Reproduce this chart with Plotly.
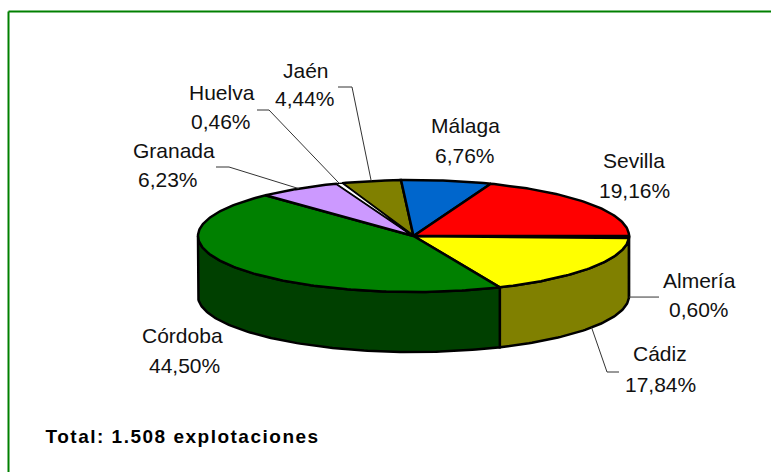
import numpy as np
import plotly.graph_objects as go

# --- data -------------------------------------------------------------
provinces = ["Almería", "Cádiz", "Córdoba", "Granada", "Huelva", "Jaén", "Málaga", "Sevilla"]
shares = [0.60, 17.84, 44.50, 6.23, 0.46, 4.44, 6.76, 19.16]
total_note = "Total: 1.508 explotaciones"

# --- style ------------------------------------------------------------
top_colors = ["#000000", "#FFFF00", "#008000", "#CC99FF", "#FFFFFF", "#808000", "#0066CC", "#FF0000"]
wall_colors = ["#000000", "#808000", "#004000", "#66507F", "#808080", "#404000", "#003366", "#800000"]
W, H = 771, 472
CX, CY, RX, RY, DEPTH = 413.5, 236.0, 215.5, 56.0, 60.0
FONT = "Liberation Sans, Arial, sans-serif"
INK = "#111111"
# label centres: (name x, name y, percent x, percent y)
label_pos = {
    "Almería": (699, 280, 699, 309),
    "Cádiz": (660, 353, 660, 384),
    "Córdoba": (182, 335, 184, 365),
    "Granada": (174, 150, 168, 179),
    "Huelva": (222, 92, 221, 121),
    "Jaén": (306, 70, 305, 98),
    "Málaga": (465, 125, 465, 155),
    "Sevilla": (634, 160, 634, 190),
}
# elbow of the leader line and end next to the label, for labels that have one
leader_ends = {
    "Almería": [(659, None)],
    "Cádiz": [(607, 372), (619, 372)],
    "Granada": [(229, 167), (216, 167)],
    "Huelva": [(269, 110), (257, 110)],
    "Jaén": [(352, 87), (338, 87)],
}

# --- geometry from the values -----------------------------------------
vals = np.array(shares, dtype=float)
edges = np.concatenate([[0.0], np.cumsum(vals) / vals.sum() * 2 * np.pi])


def rim(t, dy=0.0):
    return CX + RX * np.cos(t), CY + RY * np.sin(t) + dy


fig = go.Figure()


def add_poly(xs, ys, color, width=2.5):
    fig.add_trace(go.Scatter(
        x=list(xs), y=list(ys), mode="lines", fill="toself", fillcolor=color,
        line=dict(color="#000000", width=width), hoverinfo="skip", showlegend=False,
    ))


# visible walls (front half of the disc)
for i in range(len(vals)):
    a, b = edges[i], min(edges[i + 1], np.pi)
    if a >= np.pi:
        continue
    t = np.linspace(a, b, max(int((b - a) * 60), 2))
    x1, y1 = rim(t)
    x2, y2 = rim(t[::-1], DEPTH)
    add_poly(np.r_[x1, x2, x1[0]], np.r_[y1, y2, y1[0]], wall_colors[i])

# top face; the narrowest slice goes last with a finer outline so its white stays visible
narrowest = int(np.argmin(vals))
for i in [j for j in range(len(vals)) if j != narrowest] + [narrowest]:
    a, b = edges[i], edges[i + 1]
    t = np.linspace(a, b, max(int((b - a) * 60), 2))
    x1, y1 = rim(t)
    add_poly(np.r_[CX, x1, CX], np.r_[CY, y1, CY], top_colors[i], 1.2 if i == narrowest else 2.5)

# leader lines start on the rim at each slice's mid angle
for i, name in enumerate(provinces):
    if name not in leader_ends:
        continue
    mid = (edges[i] + edges[i + 1]) / 2
    x0, y0 = rim(mid, DEPTH if mid < np.pi else 0.0)
    xs, ys = [x0], [y0]
    for (px, py) in leader_ends[name]:
        xs.append(px)
        ys.append(y0 if py is None else py)
    fig.add_trace(go.Scatter(x=xs, y=ys, mode="lines", line=dict(color="#333333", width=1),
                             hoverinfo="skip", showlegend=False))

# labels
annotations = []
for name, share in zip(provinces, shares):
    nx, ny, px, py = label_pos[name]
    pct = f"{share:.2f}".replace(".", ",") + "%"
    for txt, tx, ty in ((name, nx, ny), (pct, px, py)):
        annotations.append(dict(x=tx, y=ty, xref="x", yref="y", text=txt, showarrow=False,
                                xanchor="center", yanchor="middle",
                                font=dict(family=FONT, size=21, color=INK)))
annotations.append(dict(x=182, y=436, xref="x", yref="y", text=f"<b>{total_note}</b>", showarrow=False,
                        xanchor="center", yanchor="middle",
                        font=dict(family=FONT, size=19, color="#000000")))

fig.update_layout(
    width=W, height=H, autosize=False,
    margin=dict(l=0, r=0, t=0, b=0),
    paper_bgcolor="white", plot_bgcolor="white", showlegend=False,
    xaxis=dict(range=[0, W], visible=False, fixedrange=True),
    yaxis=dict(range=[H, 0], visible=False, fixedrange=True),
    annotations=annotations,
    shapes=[
        dict(type="line", xref="x", yref="y", x0=8.5, y0=11.5, x1=W, y1=11.5, line=dict(color="#008000", width=2), layer="below"),
        dict(type="line", xref="x", yref="y", x0=8.5, y0=11.5, x1=8.5, y1=H, line=dict(color="#008000", width=2), layer="below"),
    ],
)

# full-bleed page, and the wide tracking of the reference's bold note
page_js = """
document.body.style.margin = '0';
document.documentElement.style.overflow = 'hidden';
document.querySelectorAll('.annotation-text').forEach(function(n){
  if (n.textContent.indexOf('Total:') === 0) { n.style.letterSpacing = '1.5px'; }
});
"""
fig.write_html("out.html", post_script=page_js, config={"displayModeBar": False})
